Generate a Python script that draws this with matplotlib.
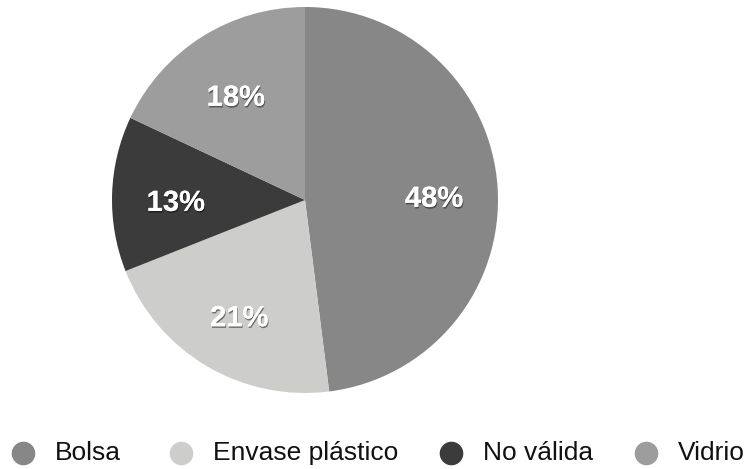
import matplotlib
matplotlib.use("Agg")
import matplotlib.pyplot as plt
import matplotlib.patheffects as pe
from matplotlib.lines import Line2D

categories = ["Bolsa", "Envase plástico", "No válida", "Vidrio"]
shares = [48, 21, 13, 18]
colors = ["#878787", "#cdcecc", "#3b3b3b", "#9d9d9d"]

W, H = 747, 469
fig = plt.figure(figsize=(W / 100, H / 100), dpi=100)
plt.rcParams["font.family"] = ["Liberation Sans", "DejaVu Sans"]

# pie axes: centre (305, 200) px, radius ~193 px
cx, cy, r = 305, 200, 193
ax = fig.add_axes([(cx - r) / W, (H - cy - r) / H, 2 * r / W, 2 * r / H])
wedges, texts, autotexts = ax.pie(
    shares,
    colors=colors,
    startangle=90,
    counterclock=False,
    autopct=lambda p: f"{p:.0f}%",
    pctdistance=0.67,
    wedgeprops=dict(linewidth=0),
    textprops=dict(color="white", fontsize=21, fontweight="bold"),
)
shadow = [pe.withSimplePatchShadow(offset=(0.6, -1.2), shadow_rgbFace="black", alpha=0.45), pe.Normal()]
for t in autotexts:
    x, y = t.get_position()
    t.set_position((x, y - 0.036))
    t.set_path_effects(shadow)
ax.set_xlim(-1, 1)
ax.set_ylim(-1, 1)
ax.set_aspect("equal")
ax.axis("off")

# legend row along the bottom
marker_x = [23, 181, 451, 646]
legend_y = 453
for x, name, c in zip(marker_x, categories, colors):
    fig.add_artist(Line2D([x / W], [1 - legend_y / H], marker="o", ms=17, color=c,
                          markeredgewidth=0, linestyle="none", transform=fig.transFigure))
    fig.text((x + 32) / W, 1 - legend_y / H, name, fontsize=19, color="#111111",
             va="center", ha="left")

fig.savefig("out.png", dpi=100, facecolor="white")
